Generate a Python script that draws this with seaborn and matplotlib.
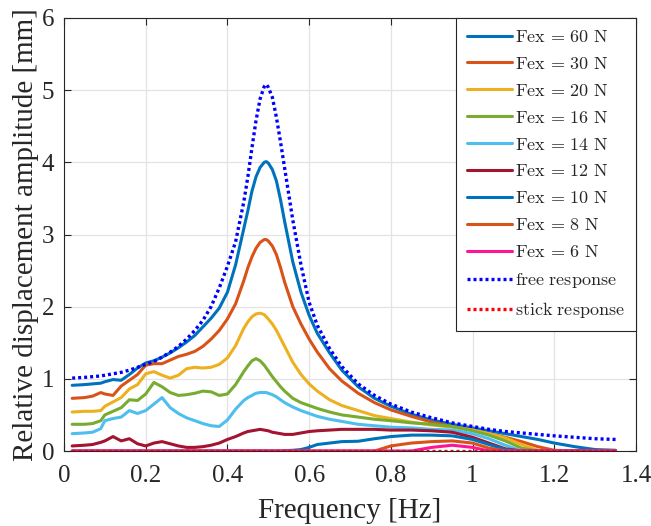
import matplotlib
matplotlib.use("Agg")
import matplotlib.pyplot as plt
import seaborn as sns

# frequency grid the curves were read at [Hz]
freq = [0.02, 0.05, 0.07, 0.09, 0.10, 0.12, 0.14, 0.16, 0.18, 0.20,
        0.22, 0.24, 0.26, 0.28, 0.30, 0.32, 0.34, 0.36, 0.38, 0.40,
        0.42, 0.44, 0.45, 0.46, 0.47, 0.48, 0.49, 0.495, 0.50, 0.51,
        0.52, 0.53, 0.54, 0.56, 0.58, 0.60, 0.62, 0.65, 0.68, 0.72,
        0.76, 0.80, 0.85, 0.90, 0.95, 1.00, 1.04, 1.08, 1.12, 1.16,
        1.20, 1.25, 1.30, 1.35]

# relative displacement amplitude [mm]
fex60 = [0.91, 0.92, 0.93, 0.94, 0.96, 0.99, 0.98, 1.06, 1.15, 1.22,
         1.25, 1.30, 1.36, 1.43, 1.51, 1.60, 1.72, 1.84, 1.98, 2.20,
         2.58, 3.08, 3.33, 3.60, 3.80, 3.93, 4.00, 4.01, 3.99, 3.90,
         3.74, 3.48, 3.18, 2.62, 2.20, 1.88, 1.63, 1.36, 1.12, 0.89,
         0.73, 0.62, 0.51, 0.43, 0.37, 0.32, 0.28, 0.24, 0.20, 0.16,
         0.11, 0.06, 0.02, 0.01]
fex30 = [0.73, 0.74, 0.76, 0.81, 0.79, 0.77, 0.90, 0.98, 1.06, 1.19,
         1.21, 1.21, 1.26, 1.31, 1.34, 1.38, 1.45, 1.55, 1.67, 1.83,
         2.04, 2.36, 2.54, 2.69, 2.81, 2.89, 2.93, 2.93, 2.91, 2.84,
         2.72, 2.54, 2.34, 2.00, 1.76, 1.55, 1.37, 1.14, 0.97, 0.80,
         0.67, 0.57, 0.48, 0.40, 0.34, 0.29, 0.24, 0.19, 0.13, 0.06,
         0.01, 0.0, 0.0, 0.0]
fex20 = [0.54, 0.55, 0.55, 0.56, 0.62, 0.68, 0.74, 0.86, 0.92, 1.07,
         1.10, 1.05, 1.01, 1.05, 1.14, 1.16, 1.15, 1.16, 1.20, 1.29,
         1.46, 1.70, 1.79, 1.86, 1.90, 1.91, 1.89, 1.86, 1.83, 1.76,
         1.67, 1.56, 1.45, 1.23, 1.06, 0.93, 0.83, 0.71, 0.63, 0.56,
         0.49, 0.45, 0.40, 0.36, 0.33, 0.29, 0.24, 0.18, 0.09, 0.01,
         0.0, 0.0, 0.0, 0.0]
fex16 = [0.37, 0.37, 0.38, 0.42, 0.50, 0.55, 0.60, 0.71, 0.70, 0.79,
         0.95, 0.89, 0.81, 0.77, 0.78, 0.80, 0.83, 0.82, 0.77, 0.79,
         0.92, 1.10, 1.18, 1.25, 1.28, 1.25, 1.19, 1.15, 1.11, 1.03,
         0.96, 0.89, 0.83, 0.73, 0.67, 0.63, 0.59, 0.54, 0.50, 0.47,
         0.44, 0.42, 0.39, 0.37, 0.34, 0.28, 0.22, 0.14, 0.04, 0.0,
         0.0, 0.0, 0.0, 0.0]
fex14 = [0.24, 0.25, 0.26, 0.31, 0.42, 0.45, 0.47, 0.56, 0.52, 0.56,
         0.65, 0.74, 0.60, 0.52, 0.46, 0.42, 0.38, 0.35, 0.34, 0.43,
         0.58, 0.70, 0.74, 0.77, 0.80, 0.81, 0.81, 0.81, 0.80, 0.78,
         0.75, 0.71, 0.67, 0.61, 0.56, 0.52, 0.48, 0.44, 0.41, 0.37,
         0.35, 0.33, 0.32, 0.30, 0.29, 0.24, 0.17, 0.08, 0.0, 0.0,
         0.0, 0.0, 0.0, 0.0]
fex12 = [0.07, 0.08, 0.09, 0.12, 0.14, 0.20, 0.14, 0.17, 0.10, 0.07,
         0.11, 0.13, 0.10, 0.07, 0.05, 0.05, 0.06, 0.08, 0.11, 0.16,
         0.20, 0.25, 0.27, 0.28, 0.29, 0.30, 0.29, 0.285, 0.28, 0.26,
         0.25, 0.24, 0.23, 0.23, 0.25, 0.27, 0.28, 0.29, 0.30, 0.30,
         0.30, 0.29, 0.29, 0.28, 0.26, 0.19, 0.11, 0.03, 0.0, 0.0,
         0.0, 0.0, 0.0, 0.0]
fex10 = [0.0, 0.0, 0.0, 0.0, 0.0, 0.0, 0.0, 0.0, 0.0, 0.0,
         0.0, 0.0, 0.0, 0.0, 0.0, 0.0, 0.0, 0.0, 0.0, 0.0,
         0.0, 0.0, 0.0, 0.0, 0.0, 0.0, 0.0, 0.0, 0.0, 0.0,
         0.0, 0.0, 0.005, 0.01, 0.02, 0.05, 0.09, 0.11, 0.13, 0.135,
         0.17, 0.20, 0.22, 0.22, 0.21, 0.16, 0.09, 0.02, 0.0, 0.0,
         0.0, 0.0, 0.0, 0.0]
fex8 = [0.0, 0.0, 0.0, 0.0, 0.0, 0.0, 0.0, 0.0, 0.0, 0.0,
        0.0, 0.0, 0.0, 0.0, 0.0, 0.0, 0.0, 0.0, 0.0, 0.0,
        0.0, 0.0, 0.0, 0.0, 0.0, 0.0, 0.0, 0.0, 0.0, 0.0,
        0.0, 0.0, 0.0, 0.0, 0.0, 0.0, 0.0, 0.0, 0.0, 0.0,
        0.0, 0.07, 0.11, 0.13, 0.14, 0.11, 0.04, 0.0, 0.0, 0.0,
        0.0, 0.0, 0.0, 0.0]
fex6 = [0.0, 0.0, 0.0, 0.0, 0.0, 0.0, 0.0, 0.0, 0.0, 0.0,
        0.0, 0.0, 0.0, 0.0, 0.0, 0.0, 0.0, 0.0, 0.0, 0.0,
        0.0, 0.0, 0.0, 0.0, 0.0, 0.0, 0.0, 0.0, 0.0, 0.0,
        0.0, 0.0, 0.0, 0.0, 0.0, 0.0, 0.0, 0.0, 0.0, 0.0,
        0.0, 0.0, 0.0, 0.05, 0.08, 0.05, 0.0, 0.0, 0.0, 0.0,
        0.0, 0.0, 0.0, 0.0]
free_resp = [1.01, 1.02, 1.03, 1.04, 1.05, 1.07, 1.09, 1.12, 1.16, 1.20,
             1.24, 1.30, 1.37, 1.45, 1.55, 1.67, 1.81, 2.00, 2.26, 2.56,
             2.90, 3.45, 3.80, 4.20, 4.58, 4.88, 5.05, 5.08, 5.04, 4.90,
             4.62, 4.28, 3.92, 3.20, 2.58, 2.06, 1.74, 1.42, 1.17, 0.93,
             0.77, 0.65, 0.54, 0.46, 0.39, 0.34, 0.30, 0.27, 0.25, 0.23,
             0.21, 0.19, 0.17, 0.16]
stick_resp = [0.0, 0.0, 0.0, 0.0, 0.0, 0.0, 0.0, 0.0, 0.0, 0.0,
              0.0, 0.0, 0.0, 0.0, 0.0, 0.0, 0.0, 0.0, 0.0, 0.0,
              0.0, 0.0, 0.0, 0.0, 0.0, 0.0, 0.0, 0.0, 0.0, 0.0,
              0.0, 0.0, 0.0, 0.0, 0.0, 0.0, 0.0, 0.0, 0.0, 0.0,
              0.0, 0.0, 0.0, 0.0, 0.0, 0.0, 0.0, 0.0, 0.0, 0.0,
              0.0, 0.0, 0.0, 0.0]

labels = ["Fex = 60 N", "Fex = 30 N", "Fex = 20 N", "Fex = 16 N",
          "Fex = 14 N", "Fex = 12 N", "Fex = 10 N", "Fex = 8 N",
          "Fex = 6 N", "free response", "stick response"]
series = [fex60, fex30, fex20, fex16, fex14, fex12, fex10, fex8, fex6,
          free_resp, stick_resp]
colors = ["#0072BD", "#D95319", "#EDB120", "#77AC30", "#4DBEEE",
          "#A2142F", "#0072BD", "#D95319", "#FF1493", "#0000FF", "#FF0000"]

sns.set_style("ticks")
plt.rcParams["font.family"] = ["Liberation Serif", "DejaVu Serif"]
plt.rcParams["mathtext.fontset"] = "cm"

fig = plt.figure(figsize=(6.51, 5.26), dpi=100)
ax = fig.add_axes([64 / 651, 1 - 451 / 526, 572 / 651, 433 / 526])

for lab, ys, col in zip(labels, series, colors):
    words = lab.replace(" = ", "}\\,=\\,\\mathrm{").replace(" ", "\\ ")
    tex = "$\\mathrm{" + words + "}$"
    if lab.startswith("free") or lab.startswith("stick"):
        sns.lineplot(x=freq, y=ys, ax=ax, color=col, linewidth=2.4,
                     linestyle=(0, (0.9, 0.9)), label=tex,
                     dash_capstyle="butt")
    else:
        sns.lineplot(x=freq, y=ys, ax=ax, color=col, linewidth=2.2,
                     label=tex)

ax.set_xlim(0, 1.4)
ax.set_ylim(0, 6)
ax.set_xticks([0, 0.2, 0.4, 0.6, 0.8, 1.0, 1.2, 1.4])
ax.set_xticklabels(["0", "0.2", "0.4", "0.6", "0.8", "1", "1.2", "1.4"])
ax.set_yticks(range(7))
ax.grid(True, color="#e3e3e3", linewidth=0.9)
ax.set_axisbelow(True)
for sp in ax.spines.values():
    sp.set_visible(True)
    sp.set_color("#262626")
    sp.set_linewidth(0.8)
ax.tick_params(direction="in", length=5, width=0.8, colors="#262626",
               top=True, right=True, labelsize=18)
ax.tick_params(axis="x", pad=10)
ax.tick_params(axis="y", pad=7)
ax.set_xlabel("Frequency [Hz]", fontsize=21, color="#262626", labelpad=8)
ax.set_ylabel("Relative displacement amplitude [mm]", fontsize=21,
              color="#262626", labelpad=2)

leg = ax.legend(loc="upper right", borderaxespad=0, fontsize=13,
                handlelength=2.5, handletextpad=0.2, labelspacing=0.55,
                borderpad=0.6, fancybox=False, framealpha=1,
                edgecolor="#262626")
leg.get_frame().set_linewidth(0.8)

fig.savefig("out.png", dpi=100)
